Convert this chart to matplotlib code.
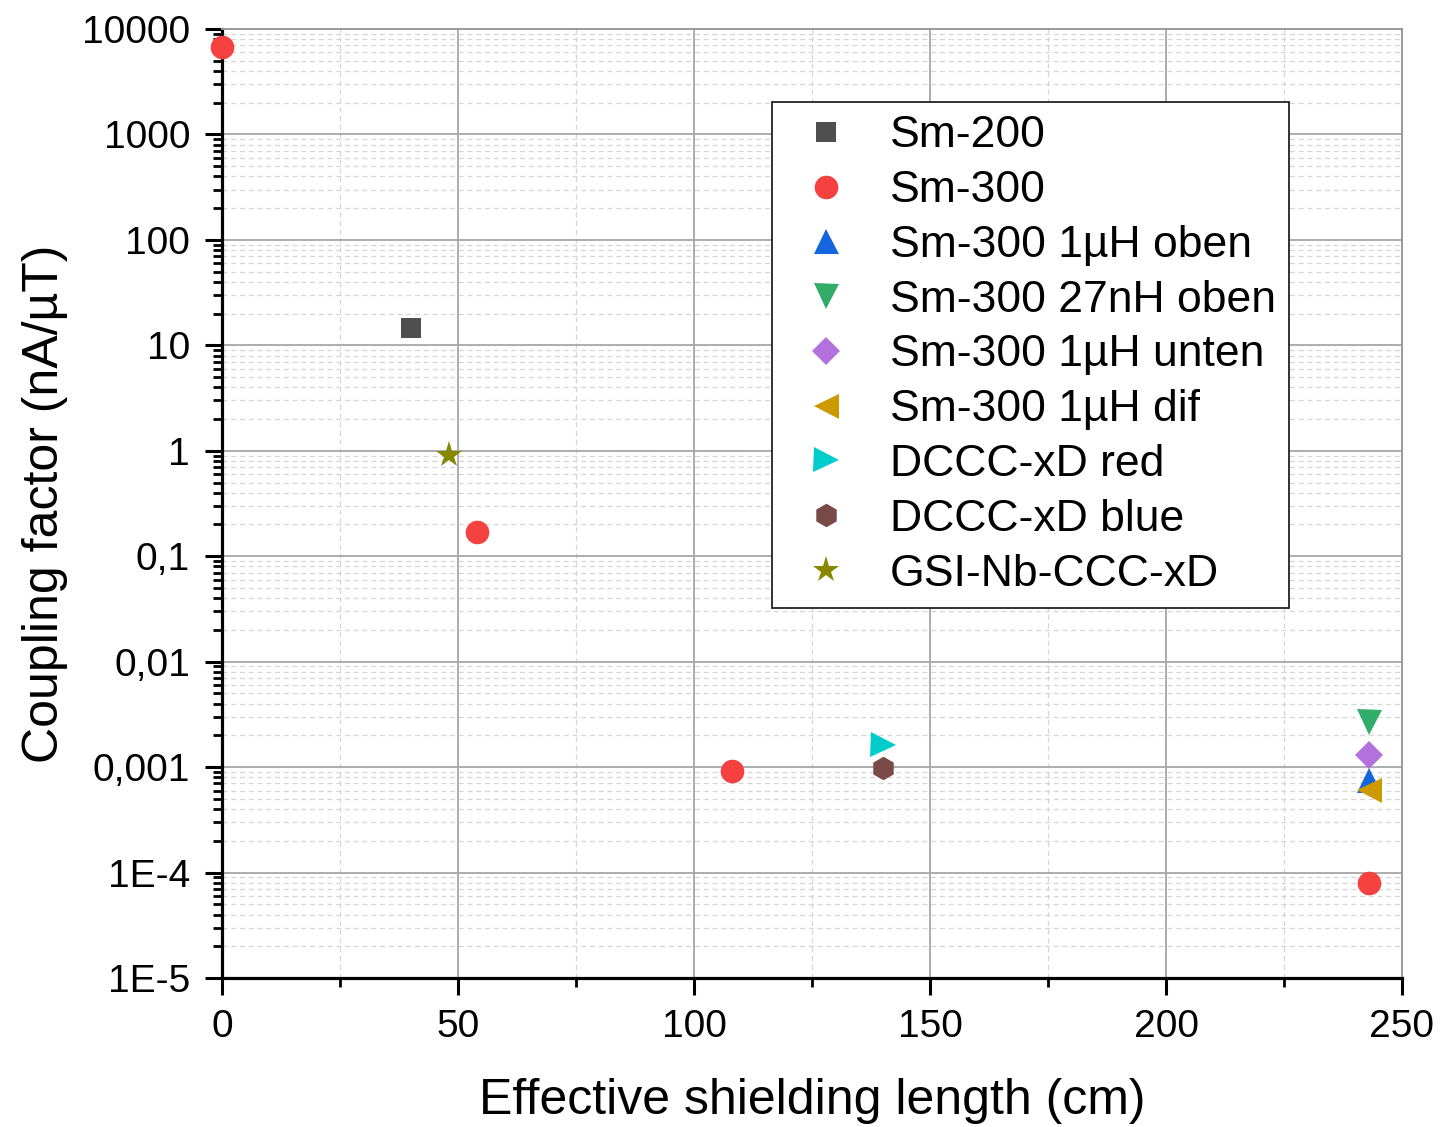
import matplotlib.pyplot as plt
import numpy as np
from matplotlib.ticker import FixedLocator, FixedFormatter, MultipleLocator, LogLocator

plt.rcParams['font.family'] = ['Liberation Sans', 'DejaVu Sans']

# coupling factor vs. effective shielding length
sm200_x = [40]
sm200_y = [14.5]

sm300_x = [0, 54, 108, 243]
sm300_y = [6750, 0.169, 0.00092, 7.9e-5]

oben_1uh_x = [243]
oben_1uh_y = [7.5e-4]

oben_27nh_x = [243]
oben_27nh_y = [0.00267]

unten_1uh_x = [243]
unten_1uh_y = [0.0013]

dif_1uh_x = [243]
dif_1uh_y = [6.05e-4]

dccc_red_x = [140]
dccc_red_y = [0.00162]

dccc_blue_x = [140]
dccc_blue_y = [0.00099]

gsi_x = [48]
gsi_y = [0.92]

y_ticks = [1e4, 1e3, 1e2, 1e1, 1, 0.1, 0.01, 0.001, 1e-4, 1e-5]
y_tick_labels = ['10000', '1000', '100', '10', '1', '0,1', '0,01', '0,001', '1E-4', '1E-5']
x_ticks = [0, 50, 100, 150, 200, 250]

fig = plt.figure(figsize=(14.53, 11.27), dpi=100)
ax = fig.add_axes([0.1528, 0.1322, 0.8121, 0.8421])

series = [
    (sm200_x, sm200_y, 's', '#4f4f4f', 15, 'Sm-200'),
    (sm300_x, sm300_y, 'o', '#f64141', 17, 'Sm-300'),
    (oben_1uh_x, oben_1uh_y, '^', '#1566dc', 18, 'Sm-300 1µH oben'),
    (oben_27nh_x, oben_27nh_y, 'v', '#31ad69', 18, 'Sm-300 27nH oben'),
    (unten_1uh_x, unten_1uh_y, 'D', '#b371dd', 14, 'Sm-300 1µH unten'),
    (dif_1uh_x, dif_1uh_y, '<', '#cc9900', 18, 'Sm-300 1µH dif'),
    (dccc_red_x, dccc_red_y, '>', '#00cccc', 18, 'DCCC-xD red'),
    (dccc_blue_x, dccc_blue_y, 'h', '#7a4a48', 17, 'DCCC-xD blue'),
    (gsi_x, gsi_y, '*', '#878700', 20, 'GSI-Nb-CCC-xD'),
]

handles = []
for xs, ys, mk, col, ms, lab in series:
    h, = ax.plot(xs, ys, linestyle='none', marker=mk, color=col, markersize=ms,
                 markeredgewidth=0, label=lab, clip_on=False, zorder=5)
    handles.append(h)

ax.set_yscale('log')
ax.set_xlim(0, 250)
ax.set_ylim(1e-5, 1e4)

ax.xaxis.set_major_locator(FixedLocator(x_ticks))
ax.xaxis.set_minor_locator(MultipleLocator(25))
ax.yaxis.set_major_locator(FixedLocator(y_ticks))
ax.yaxis.set_major_formatter(FixedFormatter(y_tick_labels))
ax.yaxis.set_minor_locator(LogLocator(base=10, subs=np.arange(2, 10), numticks=20))

ax.grid(which='major', color='#a6a6a6', linewidth=1.3, linestyle='-')
ax.grid(which='minor', color='#d6d6d6', linewidth=0.9, linestyle=(0, (4, 3)))
ax.set_axisbelow(True)

for side in ['left', 'bottom']:
    ax.spines[side].set_linewidth(2.3)
    ax.spines[side].set_color('black')
for side in ['top', 'right']:
    ax.spines[side].set_linewidth(1.4)
    ax.spines[side].set_color('#9a9a9a')

ax.tick_params(which='major', direction='out', length=12, width=2.2, labelsize=28,
               top=False, right=False)
ax.tick_params(which='minor', direction='out', length=6.5, width=2.0,
               top=False, right=False)
ax.tick_params(axis='x', which='major', pad=10)
ax.tick_params(axis='y', which='major', pad=11)
ax.tick_params(axis='y', which='minor', labelleft=False)

ax.set_xlabel('Effective shielding length (cm)', fontsize=36, labelpad=24)
ax.set_ylabel('Coupling factor (nA/µT)', fontsize=36, labelpad=10)

leg = fig.legend(handles=handles, loc='upper left', bbox_to_anchor=(772 / 1453, 1 - 102 / 1127),
                 borderaxespad=0, fontsize=32, frameon=True, fancybox=False, framealpha=1,
                 edgecolor='#222222', handlelength=1.85, handletextpad=0.5, labelspacing=0.31,
                 borderpad=0.3)
leg.get_frame().set_linewidth(1.3)

fig.savefig('out.png', dpi=100, facecolor='white')
